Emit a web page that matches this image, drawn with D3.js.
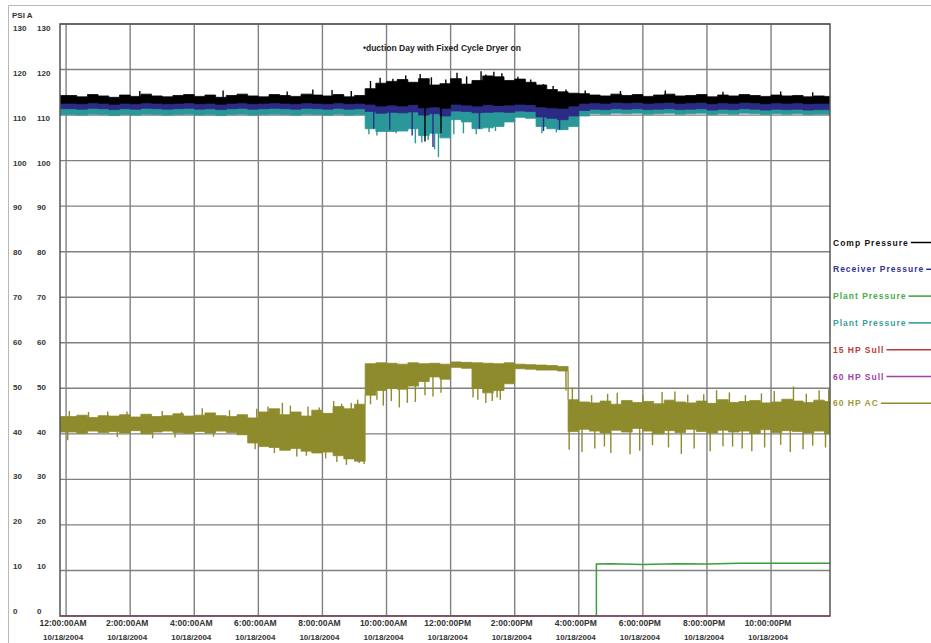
<!DOCTYPE html>
<html>
<head>
<meta charset="utf-8">
<script src="https://cdn.jsdelivr.net/npm/d3@7"></script>
<style>
  body { margin: 0; background: #fff; }
  svg { display: block; }
  text { font-family: "Liberation Sans", Arial, sans-serif; font-weight: bold; }
</style>
</head>
<body>
<script>
// hours since midnight, 10/18/2004; one bucket every 20 minutes
var bucketMinutes = 20;
var tickHours = [0, 2, 4, 6, 8, 10, 12, 14, 16, 18, 20, 22];
var tickTimes = ["12:00:00AM", "2:00:00AM", "4:00:00AM", "6:00:00AM", "8:00:00AM", "10:00:00AM",
                 "12:00:00PM", "2:00:00PM", "4:00:00PM", "6:00:00PM", "8:00:00PM", "10:00:00PM"];
var tickDate = "10/18/2004";
var yTicks = [0, 10, 20, 30, 40, 50, 60, 70, 80, 90, 100, 110, 120, 130];

var compHi = [114.3,114.0,114.5,114.2,113.9,114.4,114.1,114.6,114.2,114.0,114.3,114.5,114.1,114.4,113.9,114.3,114.6,114.2,114.0,114.5,114.3,114.1,114.6,114.4,114.2,114.5,114.0,114.3,
              115.8,117.0,117.4,117.8,117.2,118.0,116.6,116.9,118.0,116.8,117.6,118.6,118.4,117.6,117.9,117.2,116.6,115.6,115.1,114.8,114.7,
              114.4,114.2,114.6,114.3,114.5,114.1,114.4,114.6,114.2,114.3,114.5,114.0,114.4,114.2,114.5,114.3,114.1,114.4,114.2,114.3,114.0,114.2,114.1];
var compLo = [112.6,112.5,112.7,112.6,112.4,112.6,112.5,112.7,112.6,112.5,112.6,112.7,112.5,112.6,112.4,112.6,112.7,112.5,112.6,112.7,112.6,112.5,112.7,112.6,112.5,112.7,112.5,112.6,
              112.4,112.0,112.2,112.0,112.3,111.6,111.8,111.5,112.4,112.2,112.0,112.3,112.1,112.2,112.4,112.3,111.8,111.6,111.5,112.0,112.6,
              112.7,112.6,112.8,112.7,112.8,112.6,112.7,112.8,112.6,112.7,112.8,112.5,112.7,112.6,112.8,112.7,112.5,112.7,112.6,112.7,112.5,112.6,112.6];

var recvHi = [113.2,113.1,113.3,113.2,113.0,113.3,113.1,113.3,113.2,113.1,113.2,113.3,113.1,113.2,113.0,113.2,113.3,113.1,113.2,113.3,113.2,113.1,113.3,113.2,113.1,113.3,113.1,113.2,
              113.0,112.8,113.0,112.8,113.0,112.6,112.7,112.5,113.1,113.0,112.8,113.0,112.9,113.0,113.1,113.0,112.7,112.6,112.5,112.8,113.2,
              113.3,113.2,113.4,113.3,113.4,113.2,113.3,113.4,113.2,113.3,113.4,113.1,113.3,113.2,113.4,113.3,113.1,113.3,113.2,113.3,113.1,113.2,113.2];
var recvLo = [111.4,111.3,111.5,111.4,111.2,111.4,111.3,111.5,111.4,111.3,111.4,111.5,111.3,111.4,111.2,111.4,111.5,111.3,111.4,111.5,111.4,111.3,111.5,111.4,111.3,111.5,111.3,111.4,
              110.8,110.4,110.6,110.5,110.7,110.0,110.3,109.8,110.9,110.8,110.5,110.6,110.7,110.6,110.9,110.8,109.6,109.3,109.0,109.8,111.0,
              111.3,111.2,111.4,111.3,111.4,111.2,111.3,111.4,111.2,111.3,111.4,111.1,111.3,111.2,111.4,111.3,111.1,111.3,111.2,111.3,111.1,111.2,111.2];

var tealHi = [111.6,111.5,111.7,111.6,111.4,111.6,111.5,111.7,111.6,111.5,111.6,111.7,111.5,111.6,111.4,111.6,111.7,111.5,111.6,111.7,111.6,111.5,111.7,111.6,111.5,111.7,111.5,111.6,
              112.0,112.2,112.1,112.0,112.2,111.8,111.9,111.8,112.3,112.1,112.0,112.2,112.1,112.0,112.1,112.0,111.9,111.8,111.8,111.7,111.7,
              111.7,111.6,111.8,111.7,111.8,111.6,111.7,111.8,111.6,111.7,111.8,111.5,111.7,111.6,111.8,111.7,111.5,111.7,111.6,111.7,111.5,111.6,111.6];
var tealLo = [110.1,110.0,110.2,110.1,109.9,110.1,110.0,110.2,110.1,110.0,110.1,110.2,110.0,110.1,109.9,110.1,110.2,110.0,110.1,110.2,110.1,110.0,110.2,110.1,110.0,110.2,110.0,110.1,
              107.0,106.4,106.4,106.5,107.0,105.5,106.0,105.0,109.0,108.5,107.0,107.2,107.5,108.5,109.5,109.3,107.5,107.0,106.8,107.5,109.8,
              110.3,110.2,110.4,110.3,110.4,110.2,110.3,110.4,110.2,110.3,110.4,110.1,110.3,110.2,110.4,110.3,110.1,110.3,110.2,110.3,110.1,110.2,110.2];

var acHi = [43.8,44.1,43.6,44.0,43.9,44.2,43.7,44.3,43.8,44.0,44.4,43.9,44.1,44.6,44.0,43.8,44.2,
            43.5,44.8,45.5,44.2,44.8,43.9,45.2,44.5,46.0,45.5,46.5,
            55.4,55.6,55.5,55.3,55.6,55.4,55.5,55.3,55.8,55.7,55.6,55.5,55.4,55.6,55.3,55.2,55.1,55.0,54.8,
            47.5,47.0,46.8,47.2,46.5,47.3,46.9,47.1,46.6,47.4,47.0,46.8,47.2,46.7,47.5,46.9,47.1,47.3,46.8,47.0,47.6,47.2,46.9,47.4,47.1];
var acLo = [40.4,40.1,40.6,40.3,40.5,40.2,40.7,40.0,40.4,40.6,40.3,40.1,40.5,40.2,40.6,40.3,39.8,
            38.0,37.2,37.0,36.4,36.8,36.2,35.8,36.0,35.2,34.5,34.0,
            48.5,49.5,50.0,49.8,50.5,51.5,52.5,52.0,54.6,54.4,50.0,49.0,49.5,51.0,54.3,54.2,54.0,54.0,53.8,
            40.5,41.0,40.6,40.2,40.8,40.4,41.2,40.6,40.0,40.7,40.3,41.0,40.5,40.2,40.8,40.4,40.6,40.1,40.9,40.3,40.7,40.5,40.2,40.6,40.0];

// single readings that stick out of the bands: [hour, psi]
var compSpikes = [[2.3,115.3],[4.9,115.4],[6.9,115.2],[7.7,115.6],[8.3,115.5],[8.9,115.3],
                  [9.5,117.5],[9.8,118.2],[10.2,118.0],[10.6,118.7],[11.05,119.0],[11.4,118.3],[11.85,117.8],
                  [11.2,104.2],[11.7,106.0],[12.2,119.3],[12.5,118.5],[12.95,119.6],[13.1,118.9],[13.35,119.5],[13.6,119.2],
                  [14.1,118.4],[14.5,117.8],[14.9,116.8],[15.2,116.4],[15.6,115.6],[16.2,115.4],
                  [17.3,115.3],[18.7,115.4],[20.5,115.1],[22.3,115.2],[23.3,115.0]];
var recvSpikes = [[9.6,107.0],[10.1,106.8],[10.8,105.5],[11.45,103.0],[12.9,107.0],[14.9,106.5],[15.4,106.8]];
var tealSpikes = [[9.45,105.8],[9.7,105.5],[10.3,106.0],[10.9,103.8],[11.1,104.0],[11.3,104.5],[11.5,102.5],[11.62,100.8],
                  [12.1,105.8],[12.4,106.0],[12.8,105.8],[13.2,106.3],[13.4,106.5],[14.85,106.0],[15.3,106.2]];
var acSpikes = [[0.1,45.0],[0.7,44.8],[1.3,44.9],[1.9,44.9],[3.0,45.0],[3.6,44.8],[4.25,45.6],[5.1,45.2],
                [5.95,45.5],[6.3,46.0],[6.75,46.8],[7.0,46.2],[7.55,46.0],[7.9,45.8],[8.35,47.2],[8.6,46.6],[8.9,46.8],[9.1,47.5],
                [15.6,49.5],[15.8,50.2],[16.4,48.5],[16.9,48.8],[17.2,49.0],[18.0,48.6],[18.6,49.2],[19.0,49.3],[19.4,48.6],
                [19.9,48.7],[20.3,49.6],[20.7,49.1],[21.2,48.5],[21.7,48.9],[22.1,49.4],[22.7,50.4],[23.1,48.8],[23.5,49.6],[23.8,49.8],
                [0.05,38.6],[1.6,39.3],[2.7,39.0],[3.4,39.2],[4.6,39.4],[5.9,36.6],[6.5,35.8],[7.2,35.0],[7.5,35.2],[8.1,34.6],
                [8.45,33.8],[8.75,33.2],[9.15,33.6],[9.3,33.4],
                [9.5,46.5],[9.7,47.5],[9.9,46.2],[10.15,47.2],[10.4,45.8],[10.65,46.8],[10.9,47.0],[11.2,48.5],[11.45,48.2],[11.7,49.0],
                [12.7,48.0],[12.85,47.5],[13.1,46.8],[13.3,47.2],[13.45,48.0],[13.55,47.5],
                [15.7,36.5],[16.1,36.0],[16.5,36.8],[16.8,37.2],[17.0,35.8],[17.6,35.5],[17.9,36.3],[18.3,37.5],[18.8,37.0],
                [19.2,35.6],[19.6,36.8],[20.1,36.2],[20.5,37.3],[20.8,37.2],[21.1,36.8],[21.4,36.2],[21.8,37.0],[22.3,37.6],
                [22.6,36.0],[23.0,36.6],[23.3,37.4],[23.7,37.0]];

var plantHours = [-0.2, 16.55, 16.55, 17.0, 18.0, 19.0, 20.0, 21.0, 22.0, 23.9];
var plantValues = [0, 0, 11.4, 11.5, 11.3, 11.5, 11.4, 11.6, 11.6, 11.6];

var legendNames = ["Comp Pressure", "Receiver Pressure", "Plant Pressure", "Plant Pressure", "15 HP Sull", "60 HP Sull", "60 HP AC"];
var legendColors = ["#000000", "#2b2b86", "#3a9e3a", "#2a9898", "#b83a3a", "#a040aa", "#8e8b2c"];
var legendText = ["#111111", "#33338f", "#49aa49", "#3aa0a0", "#b83a3a", "#a040aa", "#a09a3a"];

var W = 931, H = 643;
var plotL = 60, plotR = 830, plotT = 24, plotB = 616;

var svg = d3.select("body").append("svg").attr("width", W).attr("height", H);

var x = d3.scaleLinear().domain([-0.19, 23.84]).range([plotL, plotR]);
var y = d3.scaleLinear().domain([0, 130]).range([plotB, plotT]);
var yLab = d3.scaleLinear().domain([0, 130]).range([611, 28]);

// outer border
svg.append("path").attr("d", "M8.5,643V5.5H931").attr("fill", "none").attr("stroke", "#b8b8b8");

svg.append("text").attr("x", 12).attr("y", 18).attr("font-size", 8).attr("fill", "#333").text("PSI A");

// grid
svg.append("g").selectAll("line").data(tickHours).enter().append("line")
    .attr("x1", function(d) { return x(d); }).attr("x2", function(d) { return x(d); })
    .attr("y1", plotT).attr("y2", plotB)
    .attr("stroke", "#808080").attr("stroke-width", 1.4);
svg.append("g").selectAll("line").data(yTicks).enter().append("line")
    .attr("x1", plotL).attr("x2", plotR)
    .attr("y1", function(d) { return y(d); }).attr("y2", function(d) { return y(d); })
    .attr("stroke", "#808080").attr("stroke-width", 1.4);

// y labels, printed twice
[13, 37].forEach(function(cx) {
    svg.append("g").selectAll("text").data(yTicks).enter().append("text")
        .attr("x", cx).attr("y", function(d) { return yLab(d) + 3; })
        .attr("font-size", 8).attr("fill", "#333")
        .text(function(d) { return d; });
});

// x labels
var xl = svg.append("g").selectAll("g").data(tickHours).enter().append("g");
xl.append("text").attr("x", function(d) { return x(d) - 3; }).attr("y", 626)
    .attr("text-anchor", "middle").attr("font-size", 8.5).attr("fill", "#333")
    .text(function(d, i) { return tickTimes[i]; });
xl.append("text").attr("x", function(d) { return x(d) - 3; }).attr("y", 640)
    .attr("text-anchor", "middle").attr("font-size", 8).attr("fill", "#333")
    .text(tickDate);

svg.append("text").attr("x", 363).attr("y", 51).attr("font-size", 8.5).attr("fill", "#222")
    .text("\u2022duction Day with Fixed Cycle Dryer on");

svg.append("clipPath").attr("id", "plot").append("rect")
    .attr("x", plotL).attr("y", plotT).attr("width", plotR - plotL).attr("height", plotB - plotT);
var plot = svg.append("g").attr("clip-path", "url(#plot)");

function buckets(hi, lo) {
    var rows = hi.map(function(h, i) {
        return { t: i * bucketMinutes / 60, hi: h, lo: lo[i] };
    });
    rows[0].t = x.domain()[0];
    var last = rows[rows.length - 1];
    rows.push({ t: x.domain()[1], hi: last.hi, lo: last.lo });
    return rows;
}

var band = d3.area()
    .x(function(d) { return x(d.t); })
    .y0(function(d) { return y(d.lo); })
    .y1(function(d) { return y(d.hi); })
    .curve(d3.curveStepAfter);

function drawBand(hi, lo, spikes, color) {
    var rows = buckets(hi, lo);
    plot.append("path").attr("d", band(rows))
        .attr("fill", color).attr("stroke", color).attr("stroke-width", 0.8);
    plot.append("g").selectAll("line").data(spikes).enter().append("line")
        .attr("x1", function(d) { return x(d[0]); }).attr("x2", function(d) { return x(d[0]); })
        .attr("y1", function(d) {
            var r = rows[Math.min(Math.floor(d[0] * 60 / bucketMinutes), rows.length - 1)];
            return y((r.hi + r.lo) / 2);
        })
        .attr("y2", function(d) { return y(d[1]); })
        .attr("stroke", color).attr("stroke-width", 1.4);
}

drawBand(acHi, acLo, acSpikes, legendColors[6]);
drawBand(tealHi, tealLo, tealSpikes, legendColors[3]);
drawBand(recvHi, recvLo, recvSpikes, legendColors[1]);
drawBand(compHi, compLo, compSpikes, legendColors[0]);

var line = d3.line()
    .x(function(d, i) { return x(plantHours[i]); })
    .y(function(d) { return y(d); });
plot.append("path").attr("d", line(plantValues))
    .attr("fill", "none").attr("stroke", legendColors[2]).attr("stroke-width", 1.5);

// frame
svg.append("rect").attr("x", plotL).attr("y", plotT).attr("width", plotR - plotL).attr("height", plotB - plotT)
    .attr("fill", "none").attr("stroke", "#555").attr("stroke-width", 1.5);

// the two Sullair units sit at zero along the bottom edge
[4, 5].forEach(function(k) {
    svg.append("line").attr("x1", x(-0.19)).attr("x2", x(23.84)).attr("y1", y(0)).attr("y2", y(0))
        .attr("stroke", legendColors[k]).attr("stroke-width", 1).attr("stroke-opacity", 0.5);
});

// legend
var lg = svg.append("g").selectAll("g").data(legendNames).enter().append("g")
    .attr("transform", function(d, i) { return "translate(833," + (242.5 + i * 26.8) + ")"; });
lg.append("text").attr("y", 3).attr("font-size", 8.5).attr("letter-spacing", 1)
    .attr("fill", function(d, i) { return legendText[i]; })
    .text(function(d) { return d; });
lg.each(function(d, i) {
    var g = d3.select(this);
    var w = g.select("text").node().getComputedTextLength();
    g.append("line").attr("x1", w + 2).attr("x2", W - 833).attr("y1", 0).attr("y2", 0)
        .attr("stroke", legendColors[i]).attr("stroke-width", 1.5);
});
</script>
</body>
</html>
